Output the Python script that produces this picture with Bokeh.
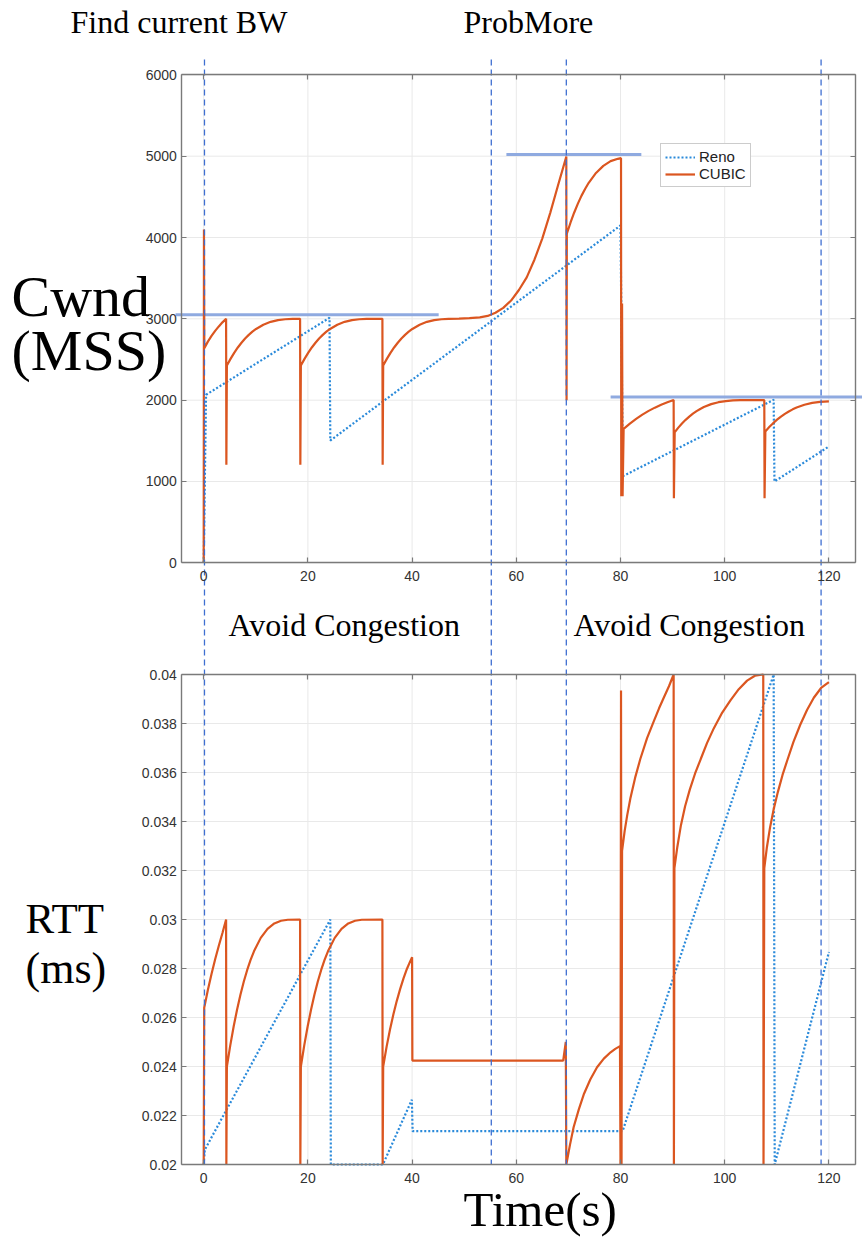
from bokeh.plotting import figure
from bokeh.models import (Range1d, LinearAxis, FixedTicker, CustomJSTickFormatter,
                          Label, Legend, LegendItem)
from bokeh.embed import file_html
from bokeh.resources import INLINE

# ---------------- data ----------------
time_ticks = [0, 20, 40, 60, 80, 100, 120]
cwnd_ticks = [0, 1000, 2000, 3000, 4000, 5000, 6000]
rtt_ticks = [0.02, 0.022, 0.024, 0.026, 0.028, 0.03, 0.032, 0.034, 0.036, 0.038, 0.04]

reno_cwnd_t = [0.0, 0.45, 24.15, 24.3, 80.0, 80.45, 109.4, 109.55, 120.0]
reno_cwnd = [0, 2066, 3013, 1504, 4148, 1065, 2004, 1000, 1430]

cubic_cwnd_t = [0.0, 0.05, 0.12, 0.8, 1.5, 2.2, 2.9, 3.6, 4.3, 4.35,
                4.45, 5.15, 5.85, 6.55, 7.25, 7.95, 8.65, 9.35, 10.05, 11.45, 12.85, 14.25,
                15.65, 17.05, 18.5, 18.55,
                18.65, 19.35, 20.05, 20.75, 21.45, 22.15, 22.85, 23.55, 24.25, 25.65, 27.05,
                28.45, 29.85, 31.25, 34.3, 34.35,
                34.45, 35.15, 35.85, 36.55, 37.25, 37.95, 38.65, 39.35, 40.05, 41.45, 42.85,
                44.25, 45.65, 47.0, 49.0, 51.0, 53.0, 54.5, 56.0, 57.5, 59.0, 60.5, 62.0,
                63.5, 65.0, 66.5, 68.0, 69.6, 69.65,
                69.7, 70.4, 71.1, 71.8, 72.5, 73.2, 73.9, 75.3, 76.7, 78.1, 79.5, 80.1,
                80.15, 80.3, 80.4,
                80.6, 81.8, 83.0, 84.2, 85.4, 86.6, 87.8, 89.0, 90.2, 90.25,
                90.4, 91.1, 91.8, 92.5, 93.2, 93.9, 94.6, 95.3, 96.0, 97.4, 98.8, 100.2,
                101.6, 103.0, 104.4, 107.6, 107.65,
                107.8, 108.55, 109.3, 110.05, 110.8, 111.55, 112.3, 113.05, 113.8, 115.3,
                116.8, 118.3, 120.0]
cubic_cwnd = [0, 4100, 2640, 2720, 2790, 2852, 2907, 2957, 3000, 1205,
              2426, 2508, 2582, 2648, 2706, 2758, 2803, 2842, 2876, 2928, 2963, 2985,
              2995, 2999, 3000, 1205,
              2426, 2508, 2582, 2648, 2706, 2758, 2803, 2842, 2876, 2928, 2963,
              2985, 2995, 2999, 3000, 1205,
              2426, 2508, 2582, 2648, 2706, 2758, 2803, 2842, 2876, 2928, 2963,
              2985, 2995, 3000, 3003, 3008, 3018, 3036, 3075, 3135, 3225, 3355, 3510,
              3730, 3990, 4300, 4640, 4995, 2000,
              4046, 4182, 4305, 4414, 4512, 4597, 4673, 4794, 4881, 4939, 4968, 4976,
              819, 3190, 819,
              1648, 1712, 1770, 1822, 1868, 1908, 1943, 1974, 2002, 794,
              1606, 1662, 1713, 1758, 1798, 1834, 1865, 1892, 1915, 1951, 1975, 1989,
              1997, 2000, 2000, 2000, 794,
              1615, 1669, 1717, 1760, 1798, 1832, 1861, 1887, 1909, 1943,
              1966, 1978, 1984]

reno_rtt_t = [0.0, 0.2, 24.3, 24.4, 34.4, 39.95, 40.1, 80.4, 109.4, 109.6, 120.0]
reno_rtt = [0.0200, 0.0206, 0.0300, 0.0200, 0.0200, 0.02264, 0.02136, 0.02136, 0.0400,
            0.0200, 0.02867]

cubic_rtt_t = [0.0, 0.1, 0.8, 1.5, 2.2, 2.9, 3.6, 4.3, 4.35,
               4.45, 5.1, 5.75, 6.4, 7.05, 7.7, 8.35, 9.0, 9.65, 10.95, 12.25, 13.55, 14.85,
               16.15, 18.5, 18.55,
               18.65, 19.3, 19.95, 20.6, 21.25, 21.9, 22.55, 23.2, 23.85, 25.15, 26.45, 27.75,
               29.05, 30.35, 34.3, 34.35,
               34.45, 35.1, 35.75, 36.4, 37.05, 37.7, 38.35, 39.0, 39.65, 40.0, 40.05,
               69.0, 69.5, 69.6, 70.3, 71.0, 72.0, 73.0, 74.2, 75.5, 76.8, 78.1, 79.0, 79.9,
               80.0, 80.1, 80.2,
               80.3, 80.8, 81.3, 81.9, 82.8, 83.8, 85.1, 86.4, 87.4, 88.3, 89.3, 90.2, 90.25,
               90.35, 90.9, 91.6, 92.4, 93.3, 94.3, 95.4, 96.6, 97.9, 99.4, 101.1, 102.7,
               104.3, 105.8, 107.4, 107.45,
               107.6, 108.1, 108.7, 109.4, 110.2, 111.1, 112.0, 113.2, 114.5, 115.8, 117.1,
               118.5, 120.0]
cubic_rtt = [0.0200, 0.0264, 0.02712, 0.02778, 0.02838, 0.02893, 0.02945, 0.0300, 0.0200,
             0.0240, 0.02486, 0.02563, 0.02632, 0.02693, 0.02747, 0.02794, 0.02835, 0.02870,
             0.02925, 0.02962, 0.02984, 0.02995, 0.02999, 0.0300, 0.0200,
             0.0240, 0.02486, 0.02563, 0.02632, 0.02693, 0.02747, 0.02794, 0.02835, 0.02870,
             0.02925, 0.02962, 0.02984, 0.02995, 0.02999, 0.0300, 0.0200,
             0.0240, 0.02480, 0.02550, 0.02612, 0.02667, 0.02716, 0.02760, 0.02798, 0.02830,
             0.02846, 0.02424,
             0.02424, 0.0250, 0.0200, 0.02080, 0.02152, 0.02225, 0.02289, 0.02347, 0.02397,
             0.02432, 0.02458, 0.02472, 0.02483,
             0.0200, 0.03935, 0.0200,
             0.0328, 0.03362, 0.03427, 0.03495, 0.03578, 0.03655, 0.03740, 0.03810, 0.03862,
             0.03905, 0.03952, 0.0400, 0.0200,
             0.0321, 0.03295, 0.03385, 0.03462, 0.03530, 0.03595, 0.03655, 0.03720, 0.03780,
             0.03840, 0.03894, 0.03940, 0.03975, 0.03995, 0.0400, 0.0200,
             0.0321, 0.03295, 0.03375, 0.03450, 0.03520, 0.03590, 0.03649, 0.03725, 0.03795,
             0.03855, 0.03905, 0.03945, 0.03969]

# capacity levels (horizontal reference lines) and their time spans
cap_levels = [3050, 5020, 2040]
cap_start = [-5.4, 58.1, 78.1]
cap_end = [45.1, 84.0, 127.0]

# phase boundaries (vertical dashed lines)
phase_t = [0.15, 55.2, 69.6, 118.5]

# ---------------- layout helpers (page px -> data) ----------------
W, H = 862, 1242
X0, KX = 203.2, 5.21
def xp(X):
    return (X - X0) / KX
CW_Y0, CW_K = 562.3, 0.08132
def cwy(Y):
    return (CW_Y0 - Y) / CW_K
RT_Y0, RT_K = 1164.0, 24500.0
def rty(Y):
    return 0.02 + (RT_Y0 - Y) / RT_K

XL, XR = xp(181.3), xp(855.0)

RENO = "#2A8ADA"
CUBIC = "#DB5620"
CAP = "#8FAAE0"
PHASE = "#3F6FD1"
AX = "#7a7a7a"
GRID = "#e9e9e9"

p = figure(width=W, height=H, title=None,
           x_range=Range1d(xp(0), xp(W)), y_range=Range1d(cwy(H), cwy(0)),
           x_axis_type=None, y_axis_type=None, toolbar_location=None,
           output_backend="svg", min_border=0, outline_line_color=None)
p.extra_y_ranges = {"rtt": Range1d(rty(H), rty(0))}
p.background_fill_color = "white"
p.border_fill_color = "white"

# ---------------- grids ----------------
p.segment(x0=time_ticks, x1=time_ticks, y0=[cwnd_ticks[0]] * len(time_ticks),
          y1=[cwnd_ticks[-1]] * len(time_ticks), line_color=GRID, line_width=1)
p.segment(x0=[XL] * len(cwnd_ticks), x1=[XR] * len(cwnd_ticks), y0=cwnd_ticks, y1=cwnd_ticks,
          line_color=GRID, line_width=1)
p.segment(x0=time_ticks, x1=time_ticks, y0=[rtt_ticks[0]] * len(time_ticks),
          y1=[rtt_ticks[-1]] * len(time_ticks), line_color=GRID, line_width=1,
          y_range_name="rtt")
p.segment(x0=[XL] * len(rtt_ticks), x1=[XR] * len(rtt_ticks), y0=rtt_ticks, y1=rtt_ticks,
          line_color=GRID, line_width=1, y_range_name="rtt")

# ---------------- axes (MATLAB style box with inward ticks) ----------------
def mk_axis(side, loc, bounds, ticks, labels, rng=None, fmt=None, standoff=5):
    ax = LinearAxis(fixed_location=loc, bounds=bounds,
                    ticker=FixedTicker(ticks=ticks, minor_ticks=[]))
    if rng is not None:
        ax.y_range_name = rng
    ax.axis_line_color = AX
    ax.axis_line_width = 1.4
    ax.major_tick_line_color = AX
    ax.major_tick_line_width = 1.2
    ax.major_tick_in = 5
    ax.major_tick_out = 0
    ax.minor_tick_line_color = None
    ax.major_label_text_font = "Liberation Sans"
    ax.major_label_text_font_size = "14px"
    ax.major_label_text_color = "#333333"
    ax.major_label_standoff = standoff
    if not labels:
        ax.formatter = CustomJSTickFormatter(code="return ''")
    elif fmt is not None:
        ax.formatter = fmt
    p.add_layout(ax, side)
    return ax

rtt_fmt = CustomJSTickFormatter(code="return tick.toFixed(3).replace(/0+$/, '');")
int_fmt = CustomJSTickFormatter(code="return tick.toFixed(0);")

# top (cwnd) box
mk_axis("left", XL, (cwnd_ticks[0], cwnd_ticks[-1]), cwnd_ticks, True, fmt=int_fmt)
mk_axis("right", XR, (cwnd_ticks[0], cwnd_ticks[-1]), cwnd_ticks, False)
mk_axis("below", cwnd_ticks[0], (XL, XR), time_ticks, True, fmt=int_fmt, standoff=8)
mk_axis("above", cwnd_ticks[-1], (XL, XR), time_ticks, False)
# bottom (rtt) box
mk_axis("left", XL, (rtt_ticks[0], rtt_ticks[-1]), rtt_ticks, True, rng="rtt", fmt=rtt_fmt)
mk_axis("right", XR, (rtt_ticks[0], rtt_ticks[-1]), rtt_ticks, False, rng="rtt")
mk_axis("below", rtt_ticks[0], (XL, XR), time_ticks, True, rng="rtt", fmt=int_fmt, standoff=8)
mk_axis("above", rtt_ticks[-1], (XL, XR), time_ticks, False, rng="rtt")

# ---------------- capacity reference lines ----------------
p.segment(x0=cap_start, x1=cap_end, y0=cap_levels, y1=cap_levels, line_color=CAP,
          line_width=3)

# ---------------- series ----------------
r_reno = p.line(reno_cwnd_t, reno_cwnd, line_color=RENO, line_width=2.2, line_dash="2 2")
r_cubic = p.line(cubic_cwnd_t, cubic_cwnd, line_color=CUBIC, line_width=2.2)
p.line(reno_rtt_t, reno_rtt, line_color=RENO, line_width=2.2, line_dash="2 2",
       y_range_name="rtt")
p.line(cubic_rtt_t, cubic_rtt, line_color=CUBIC, line_width=2.2, y_range_name="rtt")

# ---------------- phase boundaries ----------------
p.segment(x0=phase_t, x1=phase_t, y0=[cwy(59)] * len(phase_t), y1=[cwy(1164)] * len(phase_t),
          line_color=PHASE, line_width=1.3, line_dash="6 4")

# ---------------- legend ----------------
leg = Legend(items=[LegendItem(label="Reno", renderers=[r_reno]),
                    LegendItem(label="CUBIC", renderers=[r_cubic])],
             location=(660, H - 187), orientation="vertical",
             label_text_font="Liberation Sans", label_text_font_size="15px",
             label_text_color="#222222", glyph_width=30, glyph_height=16,
             label_height=16, spacing=0, padding=4, margin=0, label_standoff=4,
             border_line_color="#9a9a9a", border_line_width=1,
             background_fill_color="white", background_fill_alpha=1.0)
p.add_layout(leg)

# ---------------- texts ----------------
def lab(X, Y, text, size):
    # Y: wanted baseline (page px); Bokeh draws the label ~0.39 em lower
    p.add_layout(Label(x=xp(X), y=cwy(Y - 0.39 * size), text=text,
                       text_font="Liberation Serif", text_font_size=f"{size}px",
                       text_color="black", text_align="left", text_baseline="alphabetic"))

lab(70, 34, "Find current BW", 32)
lab(463, 34, "ProbMore", 32)
lab(228, 637, "Avoid Congestion", 32)
lab(573, 637, "Avoid Congestion", 32)
lab(11, 319, "Cwnd", 58)
lab(11, 373, "(MSS)", 58)
lab(25, 935, "RTT", 43)
lab(25, 985, "(ms)", 44)
lab(463, 1228, "Time(s)", 49)

open("out.html", "w").write(file_html(p, INLINE))
